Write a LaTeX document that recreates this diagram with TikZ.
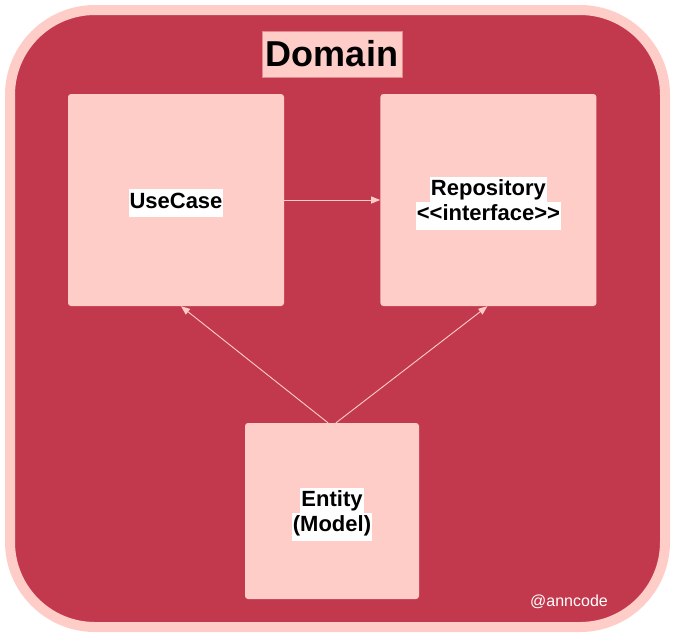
\documentclass[tikz,border=0pt]{standalone}
\usepackage{fontspec}
\setmainfont{Liberation Sans}[Ligatures=NoCommon]
\usetikzlibrary{positioning,arrows.meta}

\definecolor{domainred}{RGB}{194,57,77}
\definecolor{domainpink}{RGB}{255,205,200}
\newcommand{\whitebg}[1]{{\setlength{\fboxsep}{1pt}\raisebox{-3pt}[\height][\depth]{\colorbox{white}{\strut #1}}}}

\begin{document}
\begin{tikzpicture}[
  x=1pt, y=-1pt,
  node distance=96pt,
  box/.style={fill=domainpink, rounded corners=3pt, align=center, inner sep=0pt, font=\fontsize{22}{26}\selectfont\bfseries},
  arrow/.style={-{Triangle[length=9pt,width=7pt]}, draw=domainpink, line width=0.9pt}
]
\useasboundingbox (0,0) rectangle (676,638);
\draw[line width=10pt, draw=domainpink, fill=domainred, rounded corners=85pt] (10,10) rectangle (665,627);

\node (title) [fill=domainpink, draw={rgb,255:red,225;green,140;blue,140}, line width=0.6pt,
  minimum width=140pt, minimum height=46pt, inner sep=0pt, font=\fontsize{36}{42}\selectfont\bfseries] at (332,54) {Domain};

\node (usecase) [box, minimum width=216pt, minimum height=212pt] at (176,200) {\whitebg{UseCase}};
\node (repo) [box, minimum width=216pt, minimum height=212pt, right=of usecase] {\whitebg{Repository}\\[-4pt]\whitebg{{<}{<}interface{>}{>}}};
\node (entity) [box, minimum width=174pt, minimum height=176pt] at (332,511) {\whitebg{Entity}\\[-4pt]\whitebg{(Model)}};

\node (credit) [text=white, font=\fontsize{16}{19}\selectfont] at (569,602) {@anncode};

\draw[arrow] (usecase) -- (repo);
\draw[arrow] ([xshift=-4pt]entity.north) -- ([xshift=5pt]usecase.south);
\draw[arrow] ([xshift=4pt]entity.north) -- ([xshift=-1pt]repo.south);
\end{tikzpicture}
\end{document}
